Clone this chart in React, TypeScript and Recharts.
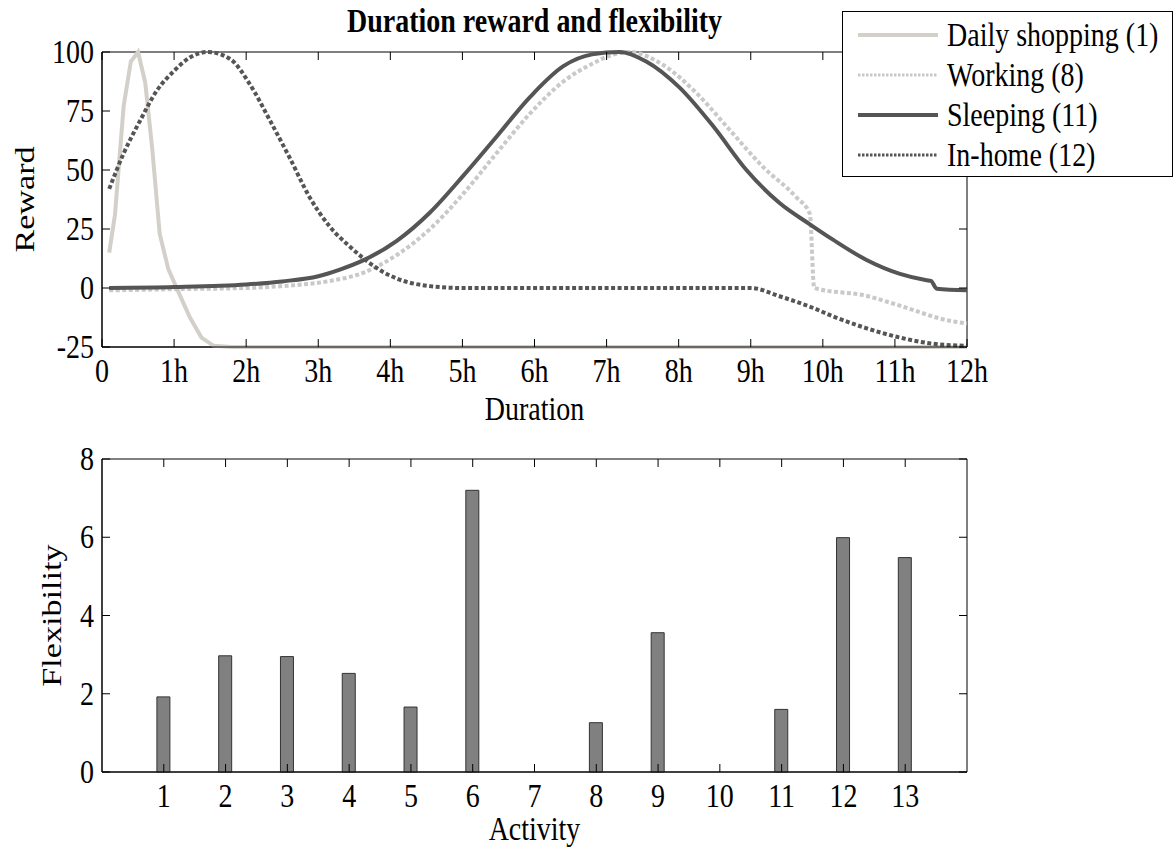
import { LineChart, Line, BarChart, Bar, XAxis, YAxis, ReferenceArea, Legend } from "recharts";

const FONT = "'Liberation Serif', 'Times New Roman', Times, serif";
const FS = 28;
// the reference picture is stretched vertically, so text is too
const STRETCH = 1.22;

// ---- top plot: duration reward ----
const hourTicks = [0, 1, 2, 3, 4, 5, 6, 7, 8, 9, 10, 11, 12];
const hourLabels = ["0", "1h", "2h", "3h", "4h", "5h", "6h", "7h", "8h", "9h", "10h", "11h", "12h"];
const rewardTicks = [-25, 0, 25, 50, 75, 100];

const shoppingHours = [0.1, 0.18, 0.3, 0.4, 0.5, 0.6, 0.7, 0.8, 0.92, 1.08, 1.22, 1.38, 1.55, 1.8, 2.5, 12];
const shoppingReward = [15, 31, 77, 96, 100, 87, 58, 23, 8, -3, -12.5, -21, -24.5, -25, -25, -25];

const workingHours = [0.1, 1, 2, 2.5, 3.16, 3.63, 4.09, 4.55, 5.01, 5.47, 5.94, 6.4, 6.8, 7.09, 7.32, 7.78, 8.25, 8.71, 9.17, 9.63, 9.82, 9.88, 10.6, 11.07, 11.76, 12];
const workingReward = [-1, -0.5, 0, 0.8, 3, 6.5, 14, 25, 39.9, 57, 74, 87.5, 95, 98.9, 100, 94.6, 82.5, 66.9, 51.3, 38.5, 31.4, 0, -3.3, -7.5, -13.9, -15];

const sleepingHours = [0.1, 1, 2, 2.5, 3.0, 3.3, 3.63, 4.09, 4.55, 5.01, 5.47, 5.94, 6.4, 6.8, 7.18, 7.55, 8.01, 8.48, 8.94, 9.4, 9.82, 10.14, 10.6, 11.07, 11.44, 11.5, 11.58, 12];
const sleepingReward = [0, 0.4, 1.5, 2.8, 5, 7.8, 11.8, 20, 32, 47.5, 64, 81, 94, 99, 100, 96, 85, 68.5, 50, 36, 27, 20.5, 12, 6, 3.3, 3, -0.3, -1];

const inhomeHours = [0.1, 0.3, 0.53, 0.76, 1.0, 1.22, 1.47, 1.78, 2.05, 2.33, 2.6, 2.88, 3.16, 3.44, 3.63, 3.86, 4.09, 4.55, 5.0, 9.0, 9.4, 9.87, 10.14, 10.6, 11.07, 11.5, 12];
const inhomeReward = [42, 57, 71, 83.6, 92, 97.7, 100, 97, 86.4, 71, 55.4, 38.5, 26, 17.5, 12.5, 7.5, 4, 0.8, 0, 0, -3.5, -8.5, -12, -17, -21, -23.5, -24.5];

// ---- bottom plot: flexibility ----
const activities = [1, 2, 3, 4, 5, 6, 7, 8, 9, 10, 11, 12, 13];
const flexibility = [1.92, 2.97, 2.95, 2.52, 1.66, 7.2, 0, 1.26, 3.56, 0, 1.6, 5.99, 5.48];
const flexTicks = [0, 2, 4, 6, 8];

const pairs = (hs: number[], vs: number[]) => hs.map((h, i) => ({ h, v: vs[i] }));

const SERIES = [
  { name: "Daily shopping (1)", data: pairs(shoppingHours, shoppingReward), color: "#d3d0c9", dash: undefined, legendDash: undefined },
  { name: "Working (8)", data: pairs(workingHours, workingReward), color: "#c9c9c9", dash: "4 2.5", legendDash: "2.5 1.5" },
  { name: "Sleeping (11)", data: pairs(sleepingHours, sleepingReward), color: "#555555", dash: undefined, legendDash: undefined },
  { name: "In-home (12)", data: pairs(inhomeHours, inhomeReward), color: "#555555", dash: "4 2.5", legendDash: "2.5 1.5" },
];

const barData = activities.map((a, i) => ({ a, f: flexibility[i] }));

const PLOT_W = 865;
const TOP_H = 295;
const BOT_H = 313;

function SText({ x, y, anchor = "middle", angle = 0, bold = false, children }: any) {
  return (
    <text
      transform={`translate(${x},${y}) scale(1,${STRETCH}) rotate(${angle})`}
      textAnchor={anchor}
      fontFamily={FONT}
      fontSize={FS}
      fontWeight={bold ? "bold" : "normal"}
      fill="#000"
    >
      {children}
    </text>
  );
}

// ticks point inwards on all four sides, matlab style
const xTick = (plotH: number, labelOf: (v: number) => string) => (props: any) => {
  const { x, y, payload } = props;
  return (
    <g>
      <line x1={x} x2={x} y1={y} y2={y - 8} stroke="#000" />
      <line x1={x} x2={x} y1={y - plotH} y2={y - plotH + 8} stroke="#000" />
      <SText x={x} y={y + 35}>{labelOf(payload.value)}</SText>
    </g>
  );
};

const yTick = (props: any) => {
  const { x, y, payload } = props;
  return (
    <g>
      <line x1={x} x2={x + 8} y1={y} y2={y} stroke="#000" />
      <line x1={x + PLOT_W} x2={x + PLOT_W - 8} y1={y} y2={y} stroke="#000" />
      <SText x={x - 8} y={y + 11} anchor="end">{payload.value}</SText>
    </g>
  );
};

function LegendBox() {
  return (
    <div style={{ width: 331, height: 166, border: "1px solid #000", background: "#fff", boxSizing: "border-box" }}>
      <svg width={329} height={164}>
        {SERIES.map((s, i) => {
          const y = 23 + i * 40;
          return (
            <g key={s.name}>
              <line x1={15} x2={95} y1={y} y2={y} stroke={s.color} strokeWidth={s.legendDash ? 3 : 4} strokeDasharray={s.legendDash} />
              <SText x={104} y={y + 11} anchor="start">{s.name}</SText>
            </g>
          );
        })}
      </svg>
    </div>
  );
}

export default function App() {
  return (
    <div style={{ position: "absolute", left: 0, top: 0, width: 1174, height: 847, background: "#fff" }}>
      <div style={{ position: "absolute", left: 0, top: 0 }}>
        <LineChart width={1174} height={440} margin={{ top: 52, right: 207, bottom: 0, left: 0 }}>
          <XAxis
            dataKey="h"
            type="number"
            domain={[0, 12]}
            ticks={hourTicks}
            interval={0}
            height={93}
            tickLine={false}
            tickSize={0}
            tickMargin={0}
            axisLine={{ stroke: "#000" }}
            tick={xTick(TOP_H, (v) => hourLabels[hourTicks.indexOf(v)])}
            label={(p: any) => (
              <SText x={p.viewBox.x + p.viewBox.width / 2} y={p.viewBox.y + 73}>Duration</SText>
            )}
          />
          <YAxis
            type="number"
            domain={[-25, 100]}
            ticks={rewardTicks}
            interval={0}
            width={102}
            tickLine={false}
            tickSize={0}
            tickMargin={0}
            axisLine={{ stroke: "#000" }}
            tick={yTick}
            label={(p: any) => (
              <SText x={34} y={p.viewBox.y + p.viewBox.height / 2} angle={-90}>Reward</SText>
            )}
          />
          <ReferenceArea
            x1={0}
            x2={12}
            y1={-25}
            y2={100}
            fill="none"
            stroke="#000"
            strokeWidth={1}
            label={(p: any) => (
              <SText x={p.viewBox.x + p.viewBox.width / 2} y={p.viewBox.y - 20} bold>
                Duration reward and flexibility
              </SText>
            )}
          />
          {SERIES.map((s) => (
            <Line
              key={s.name}
              name={s.name}
              data={s.data}
              dataKey="v"
              type={s.name.startsWith("Daily") ? "linear" : "monotone"}
              stroke={s.color}
              strokeWidth={4}
              strokeDasharray={s.dash}
              dot={false}
              activeDot={false}
              isAnimationActive={false}
            />
          ))}
          <Legend
            layout="horizontal"
            verticalAlign="middle"
            align="center"
            wrapperStyle={{ left: 842, top: 11, width: 331, height: 166 }}
            content={() => <LegendBox />}
          />
        </LineChart>
      </div>

      <div style={{ position: "absolute", left: 0, top: 440 }}>
        <BarChart width={1174} height={407} data={barData} margin={{ top: 19, right: 207, bottom: 0, left: 0 }}>
          <XAxis
            dataKey="a"
            type="number"
            domain={[0, 14]}
            ticks={activities}
            interval={0}
            height={75}
            tickLine={false}
            tickSize={0}
            tickMargin={0}
            axisLine={{ stroke: "#000" }}
            tick={xTick(BOT_H, (v) => String(v))}
            label={(p: any) => (
              <SText x={p.viewBox.x + p.viewBox.width / 2} y={p.viewBox.y + 68}>Activity</SText>
            )}
          />
          <YAxis
            type="number"
            domain={[0, 8]}
            ticks={flexTicks}
            interval={0}
            width={102}
            tickLine={false}
            tickSize={0}
            tickMargin={0}
            axisLine={{ stroke: "#000" }}
            tick={yTick}
            label={(p: any) => (
              <SText x={61} y={p.viewBox.y + p.viewBox.height / 2} angle={-90}>Flexibility</SText>
            )}
          />
          <ReferenceArea x1={0} x2={14} y1={0} y2={8} fill="none" stroke="#000" strokeWidth={1} />
          <Bar dataKey="f" barSize={13} fill="#808080" stroke="#333" strokeWidth={1} isAnimationActive={false} />
        </BarChart>
      </div>
    </div>
  );
}
